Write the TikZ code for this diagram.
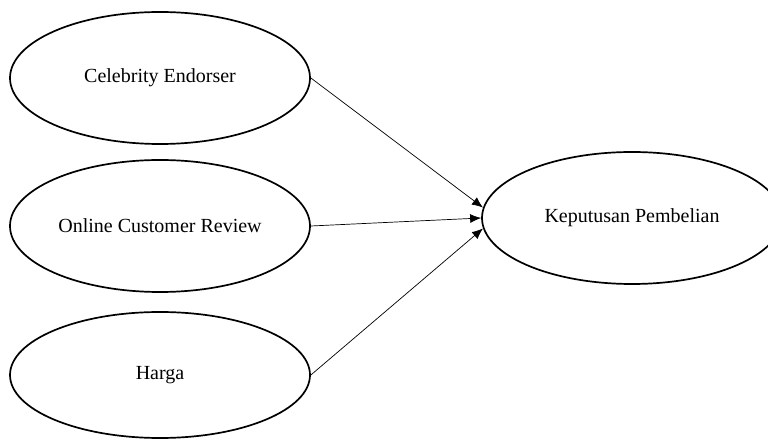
\documentclass[tikz,border=0pt]{standalone}
\usepackage{fontspec}
\setmainfont{Liberation Serif}
\usetikzlibrary{shapes.geometric}
\usetikzlibrary{arrows.meta}

\begin{document}
\begin{tikzpicture}[x=1pt, y=1pt, var/.style={draw,shape=ellipse,line width=1.7pt,
		minimum width=300pt,minimum height=132pt,inner sep=0pt,font=\fontsize{20}{24}\selectfont},
	arr/.style={line width=0.7pt,-{Latex[length=11pt,width=9pt]}}]
	\useasboundingbox (0, 0) rectangle (768, 439);
	\node[var] (ce) at (160, 361) {Celebrity Endorser};
	\node[var] (ocr) at (160, 213) {Online Customer Review};
	\node[var, minimum height=126pt] (harga) at (160, 64) {Harga};
	\node[var] (kp) at (632, 221) {Keputusan Pembelian};
	\draw[arr] (ce.east) to (kp.176);
	\draw[arr] (ocr.east) to (kp.west);
	\draw[arr] (harga.east) to (kp.184);
	\end{tikzpicture}
\end{document}
